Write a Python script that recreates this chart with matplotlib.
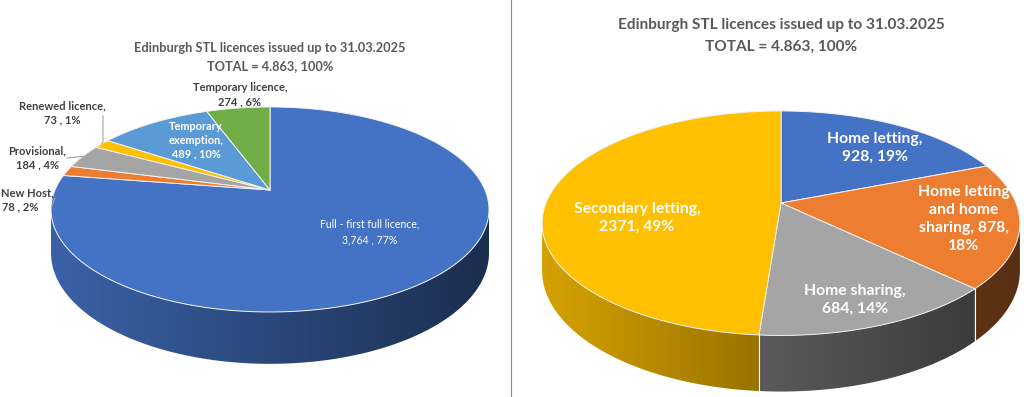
import numpy as np
import matplotlib
matplotlib.use("Agg")
import matplotlib.pyplot as plt
from matplotlib.patches import Polygon
from matplotlib.colors import to_rgb

# ---------------- data ----------------
title_line1 = "Edinburgh STL licences issued up to 31.03.2025"
title_line2 = "TOTAL = 4.863, 100%"

left_labels = ["Full - first full licence", "New Host", "Provisional",
               "Renewed licence", "Temporary exemption", "Temporary licence"]
left_values = [3764, 78, 184, 73, 489, 274]
left_value_text = ["3,764", "78", "184", "73", "489", "274"]
left_pcts = [77, 2, 4, 1, 10, 6]
left_colors = ["#4472C4", "#ED7D31", "#A5A5A5", "#FFC000", "#5B9BD5", "#70AD47"]

right_labels = ["Home letting", "Home letting and home sharing",
                "Home sharing", "Secondary letting"]
right_values = [928, 878, 684, 2371]
right_pcts = [19, 18, 14, 49]
right_colors = ["#4472C4", "#ED7D31", "#A5A5A5", "#FFC000"]

FONT = "Lato"

# side shading (left, right) factor per base colour
SIDE_SHADE = {"#4472C4": (0.86, 0.40), "#FFC000": (0.84, 0.60),
              "#A5A5A5": (0.55, 0.36), "#ED7D31": (0.40, 0.37)}


def proj(theta, g, drop=0.0):
    v = np.cos(theta)
    u = np.sin(theta)
    d = 1 + g["k"] * v
    return g["cx"] + g["R"] * u / d, g["cy"] - g["Ry"] * v / d + g["D"] * drop / d


def draw_pie3d(ax, values, colors, g):
    vals = np.asarray(values, float)
    fr = vals / vals.sum()
    edges = np.concatenate([[0], np.cumsum(fr)]) * 2 * np.pi
    k = g["k"]
    # sides
    for i, c in enumerate(colors):
        a0, a1 = edges[i], edges[i + 1]
        t = np.linspace(a0, a1, max(4, int((a1 - a0) / np.radians(0.3))))
        vis = np.cos(t) < -k
        if vis.sum() < 2:
            continue
        t = t[vis]
        xs, ys = proj(t, g)
        xb, yb = proj(t, g, 1.0)
        pts = list(zip(xs, ys)) + list(zip(xb[::-1], yb[::-1]))
        poly = Polygon(pts, closed=True, facecolor="none", edgecolor="none")
        ax.add_patch(poly)
        base = np.array(to_rgb(c))
        fl, frr = SIDE_SHADE.get(c, (0.8, 0.45))
        x0, x1 = min(xs.min(), xb.min()), max(xs.max(), xb.max())
        y0, y1 = min(ys.min(), yb.min()), max(ys.max(), yb.max())
        n = 256
        f = np.linspace(fl, frr, n)
        img = np.clip(base[None, None, :] * f[None, :, None], 0, 1)
        img = np.repeat(img, 2, axis=0)
        im = ax.imshow(img, extent=(x0, x1, y1, y0), aspect="auto",
                       interpolation="bilinear", zorder=2)
        im.set_clip_path(poly)
    # side boundary lines
    for a in edges[1:-1]:
        if np.cos(a) < -k:
            xt, yt = proj(a, g)
            xb, yb = proj(a, g, 1.0)
            ax.plot([xt, xb], [yt, yb], color="white", lw=0.8, zorder=3)
    # top faces
    for i, c in enumerate(colors):
        a0, a1 = edges[i], edges[i + 1]
        t = np.linspace(a0, a1, max(3, int((a1 - a0) / np.radians(0.5))))
        xs, ys = proj(t, g)
        pts = [(g["cx"], g["cy"])] + list(zip(xs, ys))
        ax.add_patch(Polygon(pts, closed=True, facecolor=c, edgecolor="#F2F2F2",
                             lw=0.7, joinstyle="round", zorder=4))
    return edges


fig = plt.figure(figsize=(10.24, 3.97), dpi=100)
ax = fig.add_axes([0, 0, 1, 1])
ax.axis("off")

gL = dict(cx=270, cy=190, R=215, Ry=98.8, k=0.19, D=42)
gR = dict(cx=781, cy=203, R=235, Ry=108.6, k=0.18, D=46)

eL = draw_pie3d(ax, left_values, left_colors, gL)
eR = draw_pie3d(ax, right_values, right_colors, gR)

# divider
ax.plot([511, 511], [0, 397], color="#8C8C8C", lw=0.8, zorder=1)

# titles
tc = "#595959"
ax.text(270, 48, title_line1, ha="center", va="center", fontsize=9.2,
        fontweight="bold", color=tc, family=FONT)
ax.text(270, 66, title_line2, ha="center", va="center", fontsize=9.2,
        fontweight="bold", color=tc, family=FONT)
ax.text(781, 25, title_line1, ha="center", va="center", fontsize=11.1,
        fontweight="bold", color=tc, family=FONT)
ax.text(781, 47, title_line2, ha="center", va="center", fontsize=11.1,
        fontweight="bold", color=tc, family=FONT)

# left labels
lc = "#404040"
fsL = 8.0


def lab(x, y, s, color=lc, fs=fsL, weight="bold", ls=1.35, ha="center"):
    ax.text(x, y, s, ha=ha, va="center", fontsize=fs, fontweight=weight,
            color=color, family=FONT, linespacing=ls, zorder=6)


def ltxt(i):
    return f"{left_labels[i]},\n{left_value_text[i]} , {left_pcts[i]}%"


lab(240, 95, ltxt(5))
lab(62, 113, ltxt(3))
lab(37, 158, ltxt(2))
ax.text(1, 193, f"{left_labels[1]},", ha="left", va="center", fontsize=fsL,
        fontweight="bold", color=lc, family=FONT, zorder=6)
ax.text(20, 207, f"{left_value_text[1]} , {left_pcts[1]}%", ha="center",
        va="center", fontsize=fsL, fontweight="bold", color=lc, family=FONT, zorder=6)
lab(196, 140, "Temporary\nexemption,\n" + f"{left_value_text[4]} , {left_pcts[4]}%",
    color="white", fs=7.9, ls=1.3)
lab(370, 232, ltxt(0), color="white", fs=7.6, weight="normal", ls=1.5)

# leader lines
lead = "#A6A6A6"
mid = lambda e, i: 0.5 * (e[i] + e[i + 1])
x3, y3 = proj(mid(eL, 3), gL)
ax.plot([103, 103, x3], [116, y3 - 2, y3], color=lead, lw=0.8, zorder=5)
x2, y2 = proj(mid(eL, 2), gL)
ax.plot([67, x2], [158, y2], color=lead, lw=0.8, zorder=5)
ax.plot([52, 55], [206, 198], color=lead, lw=0.8, zorder=5)

# right labels
fsR = 11.3
lab(875, 148, f"{right_labels[0]},\n{right_values[0]}, {right_pcts[0]}%",
    color="white", fs=fsR, ls=1.35)
lab(964, 219, f"Home letting\nand home\nsharing, {right_values[1]},\n{right_pcts[1]}%",
    color="white", fs=fsR, ls=1.35)
lab(855, 300, f"{right_labels[2]},\n{right_values[2]}, {right_pcts[2]}%",
    color="white", fs=fsR, ls=1.35)
lab(637, 218, f"{right_labels[3]},\n{right_values[3]}, {right_pcts[3]}%",
    color="white", fs=fsR, ls=1.35)

ax.set_xlim(0, 1024)
ax.set_ylim(397, 0)
fig.savefig("out.png", dpi=100, facecolor="white")
